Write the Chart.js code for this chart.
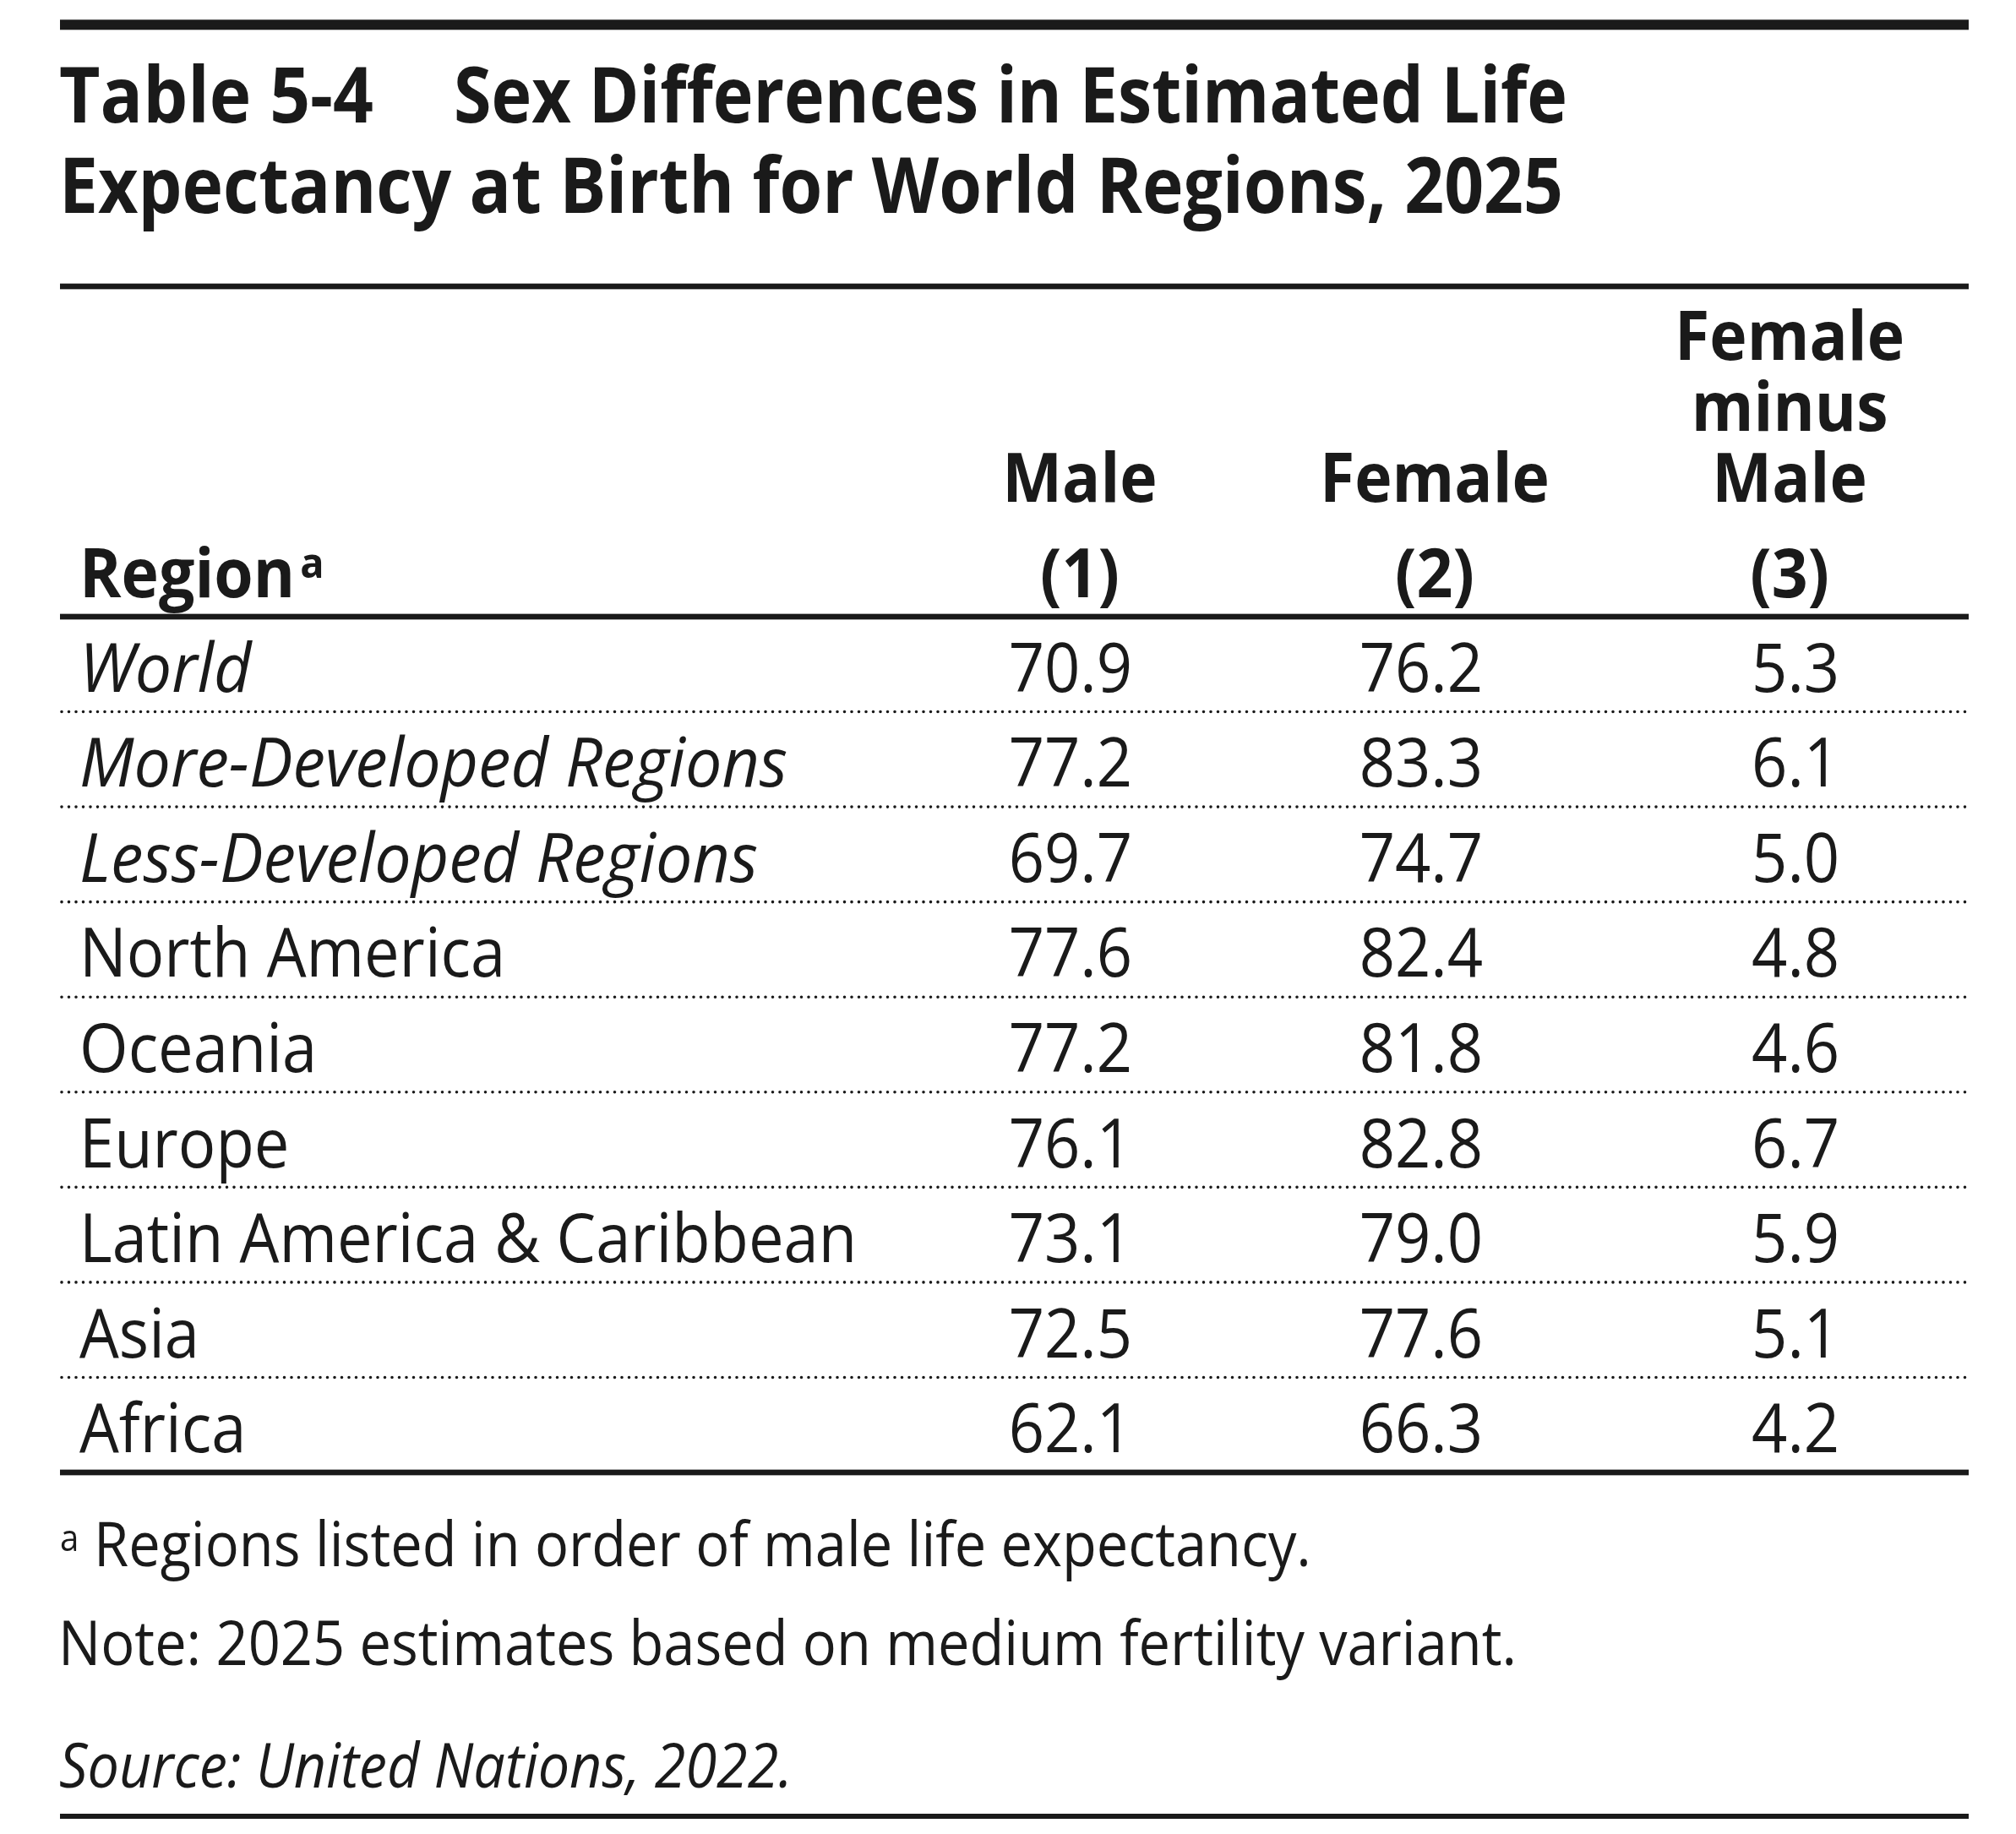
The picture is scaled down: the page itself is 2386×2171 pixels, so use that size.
<!DOCTYPE html>
<html>
<head>
<meta charset="utf-8">
<title>Table 5-4</title>
<script src="https://cdn.jsdelivr.net/npm/chart.js@4.4.1/dist/chart.umd.min.js"></script>
<style>
    html, body { margin: 0; padding: 0; background: #ffffff; }
    canvas { display: block; }
</style>
</head>
<body>
<canvas id="chart" width="2386" height="2171"></canvas>
<script>
// 表のデータ
const tableNumber = 'Table 5-4';
const titleLine1 = 'Sex Differences in Estimated Life';
const titleLine2 = 'Expectancy at Birth for World Regions, 2025';
const regionHead = 'Region';
const columnHeads = [['Male', '(1)'], ['Female', '(2)'], ['Female', 'minus', 'Male', '(3)']];
const regions = ['World', 'More-Developed Regions', 'Less-Developed Regions', 'North America', 'Oceania',
    'Europe', 'Latin America & Caribbean', 'Asia', 'Africa'];
const male = [70.9, 77.2, 69.7, 77.6, 77.2, 76.1, 73.1, 72.5, 62.1];
const female = [76.2, 83.3, 74.7, 82.4, 81.8, 82.8, 79.0, 77.6, 66.3];
const femaleMinusMale = [5.3, 6.1, 5.0, 4.8, 4.6, 6.7, 5.9, 5.1, 4.2];
const footnoteMark = 'a';
const footnote = 'Regions listed in order of male life expectancy.';
const note = 'Note: 2025 estimates based on medium fertility variant.';
const source = 'Source: United Nations, 2022.';

// レイアウト（x軸の単位は表の幅に対する%）
const INK = '#1a1a1a';
const FACE = '"Open Sans", "Noto Sans", sans-serif';
const ITALIC_ROWS = 3;              // 先頭3行（集計地域）は斜体
const regionX = 1.02;
const headX = [53.43, 72.02, 90.62];
const numX = [52.94, 71.31, 90.93];

// 文字を横方向に詰めて描く
function drawText(ctx, text, x, y, font, sx, align) {
    ctx.save();
    ctx.font = font;
    ctx.fillStyle = INK;
    ctx.textAlign = align || 'left';
    ctx.textBaseline = 'alphabetic';
    ctx.translate(x, y);
    ctx.scale(sx, 1);
    ctx.fillText(text, 0, 0);
    const w = ctx.measureText(text).width * sx;
    ctx.restore();
    return w;
}

// 目標の幅から横の縮率を求める
function fitScale(ctx, font, text, target) {
    ctx.save();
    ctx.font = font;
    const w = ctx.measureText(text).width;
    ctx.restore();
    return target / w;
}

const tablePlugin = {
    id: 'tableText',
    afterDraw(chart) {
        const ctx = chart.ctx;
        const area = chart.chartArea;
        const xs = chart.scales.x;
        const ys = chart.scales.y;
        const L = area.left;
        const R = area.right;

        const fTitle = 'bold 92px ' + FACE;
        const fHead = 'bold 80px ' + FACE;
        const fSup = 'bold 50px ' + FACE;
        const fBody = '80px ' + FACE;
        const fItalic = 'italic 80px ' + FACE;
        const fNote = '73px ' + FACE;
        const fNoteSup = '44px ' + FACE;
        const fSource = 'italic 73px ' + FACE;

        const sNumber = fitScale(ctx, fTitle, tableNumber, 372);
        const sTitle1 = fitScale(ctx, fTitle, titleLine1, 1318);
        const sTitle2 = fitScale(ctx, fTitle, titleLine2, 1780);
        const sHead = fitScale(ctx, fHead, 'Female', 272);
        const sBody = fitScale(ctx, fBody, 'Latin America & Caribbean', 920);
        const sItalic = fitScale(ctx, fItalic, 'More-Developed Regions', 838);
        const sNote = fitScale(ctx, fNote, note, 1726);
        const sSource = fitScale(ctx, fSource, source, 868);

        // 罫線
        ctx.save();
        ctx.fillStyle = INK;
        const rule = (y, w) => ctx.fillRect(L, y - w / 2, R - L, w);
        rule(29.3, 12);
        rule(339, 6.7);
        rule(area.top, 6.7);
        rule(area.bottom, 6.7);
        rule(2150, 6);
        ctx.restore();

        // 行の間の点線
        ctx.save();
        ctx.strokeStyle = INK;
        ctx.lineWidth = 3.6;
        ctx.lineCap = 'round';
        ctx.setLineDash([0, 8.5]);
        for (let i = 1; i < regions.length; i++) {
            const y = (ys.getPixelForValue(i - 1) + ys.getPixelForValue(i)) / 2;
            ctx.beginPath();
            ctx.moveTo(L + 2, y);
            ctx.lineTo(R, y);
            ctx.stroke();
        }
        ctx.restore();

        // 表題
        drawText(ctx, tableNumber, L - 1, 145.3, fTitle, sNumber);
        drawText(ctx, titleLine1, 537, 145.3, fTitle, sTitle1);
        drawText(ctx, titleLine2, L - 1, 252.3, fTitle, sTitle2);

        // 列見出し（下揃え）
        const headBase = [area.top - 23.3, area.top - 136, area.top - 220, area.top - 304];
        columnHeads.forEach((lines, k) => {
            const x = xs.getPixelForValue(headX[k]);
            lines.slice().reverse().forEach((t, j) => {
                drawText(ctx, t, x, headBase[j], fHead, sHead, 'center');
            });
        });
        const rx = xs.getPixelForValue(regionX);
        const rw = drawText(ctx, regionHead, rx, headBase[0], fHead, sHead);
        drawText(ctx, footnoteMark, rx + rw + 6, area.top - 46, fSup, sHead);

        // 地域名
        regions.forEach((name, i) => {
            const y = ys.getPixelForValue(i) + 32.5;
            if (i < ITALIC_ROWS) {
                drawText(ctx, name, rx, y, fItalic, sItalic);
            } else {
                drawText(ctx, name, rx, y, fBody, sBody);
            }
        });

        // 数値
        chart.data.datasets.forEach((ds, k) => {
            const meta = chart.getDatasetMeta(k);
            meta.data.forEach((pt, i) => {
                drawText(ctx, ds.values[i].toFixed(1), pt.x, pt.y + 32.5, fBody, sBody, 'center');
            });
        });

        // 注記
        drawText(ctx, footnoteMark, L, area.bottom + 93, fNoteSup, sNote);
        drawText(ctx, footnote, L + 40, area.bottom + 111, fNote, sNote);
        drawText(ctx, note, L - 2, area.bottom + 228, fNote, sNote);
        drawText(ctx, source, L - 1, area.bottom + 373, fSource, sSource);
    }
};

const series = [male, female, femaleMinusMale];
const seriesNames = ['Male', 'Female', 'Female minus Male'];

new Chart(document.getElementById('chart'), {
    type: 'scatter',
    data: {
        datasets: series.map((vals, k) => ({
            label: seriesNames[k],
            values: vals,
            data: vals.map((v, i) => ({ x: numX[k], y: regions[i] })),
            pointRadius: 0,
            pointHoverRadius: 0
        }))
    },
    options: {
        responsive: false,
        animation: false,
        devicePixelRatio: 1,
        events: [],
        layout: {
            padding: { top: 730, bottom: 428, left: 71, right: 56 }
        },
        plugins: {
            legend: { display: false },
            tooltip: { enabled: false },
            title: { display: false }
        },
        scales: {
            x: { type: 'linear', min: 0, max: 100, display: false },
            y: { type: 'category', labels: regions, offset: true, display: false }
        }
    },
    plugins: [tablePlugin]
});
</script>
</body>
</html>
